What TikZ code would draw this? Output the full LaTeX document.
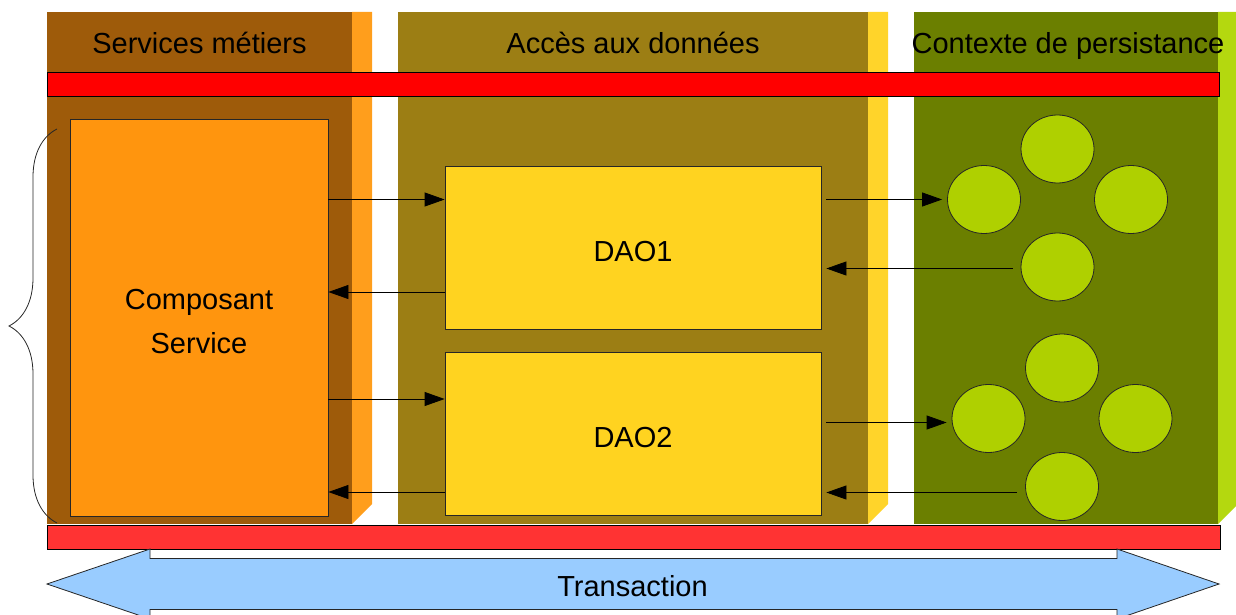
\documentclass[tikz,border=0pt]{standalone}
\usepackage{fontspec}
\setmainfont{Liberation Sans}
\usetikzlibrary{arrows.meta,positioning,decorations.pathreplacing,shapes.geometric}

\definecolor{svcbrown}{HTML}{9E5B0A}
\definecolor{svcside}{HTML}{FF9E1C}
\definecolor{svcorange}{HTML}{FF950E}
\definecolor{daobrown}{HTML}{9C7E14}
\definecolor{daoside}{HTML}{FFD42A}
\definecolor{daoyellow}{HTML}{FFD320}
\definecolor{ctxgreen}{HTML}{6B7F00}
\definecolor{ctxside}{HTML}{B4D80F}
\definecolor{beadgreen}{HTML}{AFD000}
\definecolor{redtop}{HTML}{FF0000}
\definecolor{redbottom}{HTML}{FF3333}
\definecolor{txblue}{HTML}{99CCFF}

\begin{document}
\begin{tikzpicture}[
    x=1pt, y=-1pt,
    font=\fontsize{29pt}{44pt}\selectfont,
    box/.style={rectangle, draw=black!85, line width=0.8pt, inner sep=0pt},
    bead/.style={ellipse, draw=black!85, line width=0.8pt, fill=beadgreen, minimum width=73pt, minimum height=68pt, inner sep=0pt},
    flow/.style={-{Triangle[length=20pt,width=14pt]}, line width=0.8pt, draw=black},
    bar/.style={draw=black, line width=0.8pt}
]
\useasboundingbox (0,0) rectangle (1236,615);

% Layers (with their side faces)
\fill[svcbrown] (47,12) rectangle (352,524);
\fill[svcside] (352,12) -- (372,12) -- (372,504) -- (352,524) -- cycle;
\fill[daobrown] (398,12) rectangle (868,524);
\fill[daoside] (868,12) -- (888,12) -- (888,504) -- (868,524) -- cycle;
\fill[ctxgreen] (914,12) rectangle (1218,524);
\fill[ctxside] (1218,12) -- (1238,12) -- (1238,504) -- (1218,524) -- cycle;

\node[anchor=base] (svclabel) at (199.5,54) {Services métiers};
\node[anchor=base] (daolabel) at (633,54) {Accès aux données};
\node[anchor=base] (ctxlabel) at (1068,54) {Contexte de persistance};

\draw[bar, fill=redtop] (47,72.5) rectangle (1219,96.5);

% Nodes
\node[box, fill=svcorange, minimum width=258pt, minimum height=397pt] (svc) at (199,317.5) {};
\node[box, fill=daoyellow, minimum width=376pt, minimum height=163pt] (dao1) at (633,247.5) {};
\node[box, fill=daoyellow, minimum width=376pt, minimum height=163pt] (dao2) at (633,433.5) {};
\node[align=center] (svctext) at ([yshift=-4.5pt]svc.center) {Composant\\Service};
\node (dao1text) at ([yshift=-4.5pt]dao1.center) {DAO1};
\node (dao2text) at ([yshift=-4.5pt]dao2.center) {DAO2};

\node[bead] (c1t) at (1057.5,149) {};
\node[bead] (c1l) at (984,199.5) {};
\node[bead] (c1r) at (1131,199.5) {};
\node[bead] (c1b) at (1057.5,267) {};
\node[bead] (c2t) at (1062,368) {};
\node[bead] (c2l) at (988.5,418.5) {};
\node[bead] (c2r) at (1135.5,418.5) {};
\node[bead] (c2b) at (1062,486.5) {};

% Arrows
\draw[flow] (svc.east |- c1l.west) -- (dao1.west |- c1l.west);
\draw[flow] ([yshift=-44.5pt]dao1.west) -- ([yshift=-44.5pt]dao1.west -| svc.east);
\draw[flow] ([yshift=34.5pt]svc.east |- dao2.west) -- ([yshift=34.5pt]dao2.west);
\draw[flow] ([yshift=-58.5pt]dao2.west) -- ([yshift=-58.5pt]dao2.west -| svc.east);

\draw[flow, shorten <=5pt, shorten >=5pt] (dao1.east |- c1l.west) -- (c1l.west);
\draw[flow, shorten <=8pt, shorten >=5pt] ([yshift=-1.5pt]c1b.west) -- ([yshift=-1.5pt]dao1.east |- c1b.west);
\draw[flow, shorten <=5pt, shorten >=5pt] ([yshift=-4pt]dao2.east |- c2l.west) -- ([yshift=-4pt]c2l.west);
\draw[flow, shorten <=8pt, shorten >=5pt] ([yshift=-6pt]c2b.west) -- ([yshift=-6pt]dao2.east |- c2b.west);

% Brace over the service layer
\draw[decorate, decoration={brace, amplitude=48pt}, line width=0.8pt, black!85] (57,523) -- (57,129);

\draw[bar, fill=redbottom] (47,525) rectangle (1220,549);

% Transaction band
\draw[line width=0.8pt, draw=black!85, fill=txblue] (47,584) -- (150,549) -- (150,558.5) -- (1117,558.5) -- (1117,549) -- (1219,584)
    -- (1117,619) -- (1117,609.5) -- (150,609.5) -- (150,619) -- cycle;
\node (tx) at (632.5,586) {Transaction};

\end{tikzpicture}
\end{document}
